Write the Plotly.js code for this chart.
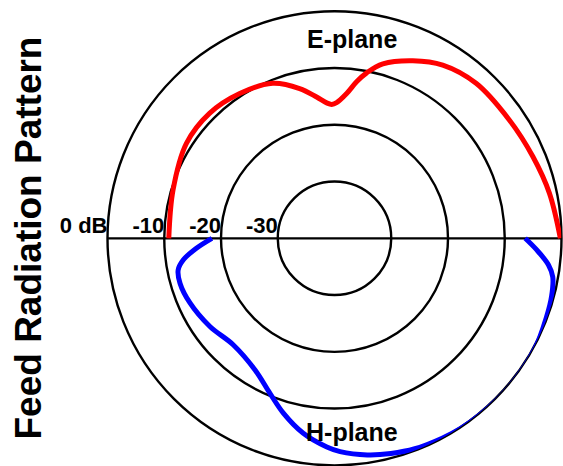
<!DOCTYPE html>
<html>
<head>
<meta charset="utf-8">
<script src="https://cdn.plot.ly/plotly-3.0.1.min.js"></script>
<style>
html,body{margin:0;padding:0;background:#fff;}
#chart{width:563px;height:466px;}
</style>
</head>
<body>
<div id="chart"></div>
<script>
// E-plane pattern (upper half), angle in degrees, level in dB
const eTheta = [180, 163.3, 147.4, 135, 123.2, 111.7, 103.1, 97.2, 93.3, 91.2, 89.1, 85.2, 81.9, 79, 74.5, 66.2, 58, 47.6, 34.1, 22.4, 11.8, 0];
const eDb    = [-10.8, -10.3, -9.0, -8.85, -9.5, -10.6, -12.9, -14.9, -16.1, -16.4, -16.1, -14.4, -12.1, -10.3, -8.1, -5.8, -4.0, -3.0, -2.8, -2.2, -1.3, -0.2];

// H-plane pattern (lower half)
const hTheta = [0, -3.3, -7.1, -10, -15, -20.3, -29, -41, -50.5, -56.4, -61.7, -69.1, -75.3, -81.4, -88.5, -92.1, -99.1, -106.3, -112.6, -121.1, -133.6, -144.7, -155.9, -163.8, -168.6, -171.9, -175.9, -180];
const hDb    = [-6.4, -4.3, -2.0, -0.95, -0.4, -0.15, 0.3, 0.4, 0.3, 0.2, 0.0, -0.3, -0.8, -1.4, -2.4, -3.2, -5.2, -7.9, -10.4, -12.9, -14.1, -13.1, -12.1, -11.65, -11.9, -13.1, -15.6, -18.4];

// radial ticks
const tickVals = [0, -10, -20, -30];
const tickText = ['0 dB', '-10', '-20', '-30'];
const gridVals = [-30, -20, -10];
const rMin = -40, rMax = 0;

const FONT = 'Liberation Sans, Arial, Helvetica, sans-serif';

const traces = [
  { // horizontal baseline through the centre
    type: 'scatterpolar', mode: 'lines',
    r: [rMax, rMin, rMax], theta: [180, 180, 0],
    line: {color: '#000', width: 2.2}, hoverinfo: 'skip', cliponaxis: false
  },
  {
    type: 'scatterpolar', mode: 'lines', name: 'E-plane',
    r: eDb, theta: eTheta,
    line: {color: '#ff0000', width: 5, shape: 'spline', smoothing: 1},
    cliponaxis: false
  },
  {
    type: 'scatterpolar', mode: 'lines', name: 'H-plane',
    r: hDb, theta: hTheta,
    line: {color: '#0000ff', width: 5, shape: 'spline', smoothing: 1},
    cliponaxis: false
  },
  {
    type: 'scatterpolar', mode: 'text',
    r: tickVals, theta: tickVals.map(() => 180),
    text: tickText.map(t => '<b>' + t + '</b>'), textposition: 'top left',
    textfont: {family: FONT, size: 22, color: '#000'},
    cliponaxis: false, hoverinfo: 'skip'
  }
];

const W = 563, H = 466, cx = 334.5, cy = 238.3, R = 227;

const layout = {
  width: W, height: H,
  margin: {l: 0, r: 0, t: 0, b: 0},
  paper_bgcolor: '#fff',
  showlegend: false,
  font: {family: FONT, color: '#000'},
  polar: {
    domain: {x: [(cx - R) / W, (cx + R) / W], y: [(H - cy - R) / H, (H - cy + R) / H]},
    bgcolor: 'rgba(0,0,0,0)',
    radialaxis: {
      range: [rMin, rMax], tickvals: gridVals, showticklabels: false, ticks: '',
      showline: false, showgrid: true, gridcolor: '#000', gridwidth: 2.4,
      layer: 'below traces'
    },
    angularaxis: {
      showgrid: false, showticklabels: false, ticks: '',
      showline: true, linecolor: '#000', linewidth: 2.4,
      layer: 'below traces'
    }
  },
  annotations: [
    {text: '<b>Feed Radiation Pattern</b>', xref: 'paper', yref: 'paper',
     x: 27.5 / W, y: 1 - 238 / H, xanchor: 'center', yanchor: 'middle',
     textangle: -90, showarrow: false, font: {family: FONT, size: 37, color: '#000'}},
    {text: '<b>E-plane</b>', xref: 'paper', yref: 'paper',
     x: 352 / W, y: 1 - 39 / H, xanchor: 'center', yanchor: 'middle',
     showarrow: false, font: {family: FONT, size: 25, color: '#000'}},
    {text: '<b>H-plane</b>', xref: 'paper', yref: 'paper',
     x: 351.5 / W, y: 1 - 432 / H, xanchor: 'center', yanchor: 'middle',
     showarrow: false, font: {family: FONT, size: 25, color: '#000'}}
  ]
};

Plotly.newPlot('chart', traces, layout, {displayModeBar: false, staticPlot: true});
</script>
</body>
</html>
